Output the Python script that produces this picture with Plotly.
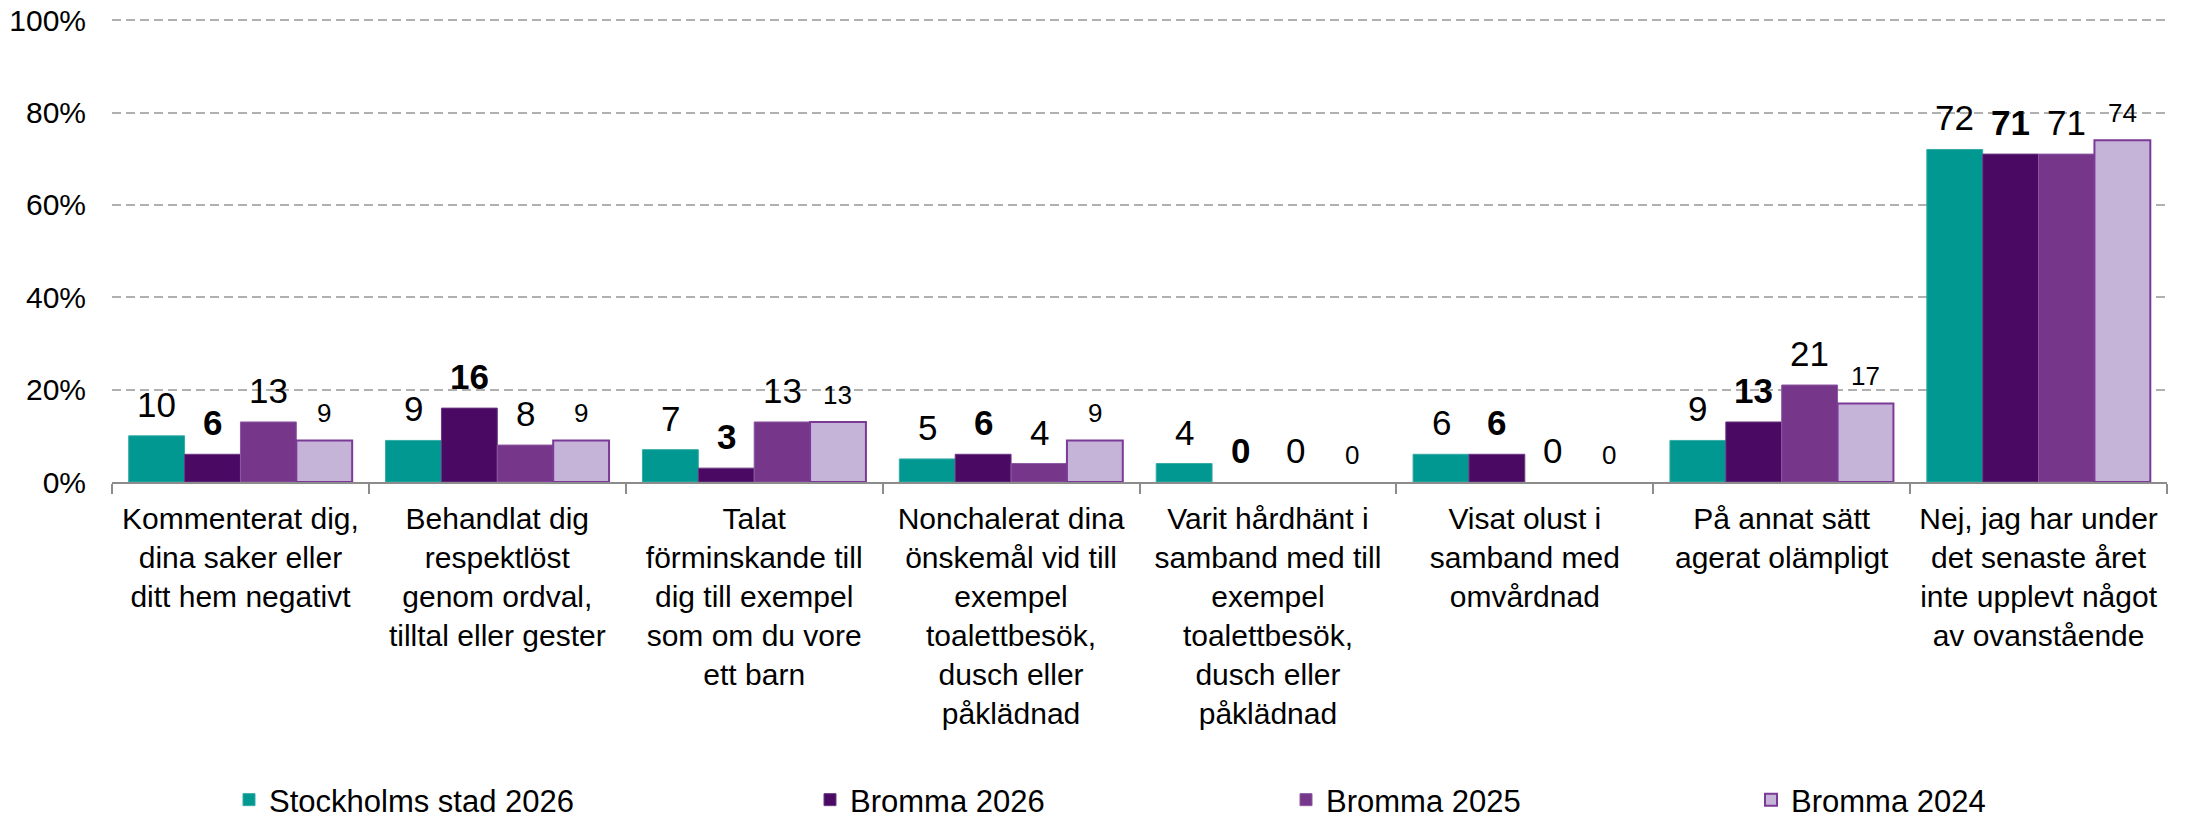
import plotly.graph_objects as go

categories = [
    "Kommenterat dig,<br>dina saker eller<br>ditt hem negativt",
    "Behandlat dig<br>respektlöst<br>genom ordval,<br>tilltal eller gester",
    "Talat<br>förminskande till<br>dig till exempel<br>som om du vore<br>ett barn",
    "Nonchalerat dina<br>önskemål vid till<br>exempel<br>toalettbesök,<br>dusch eller<br>påklädnad",
    "Varit hårdhänt i<br>samband med till<br>exempel<br>toalettbesök,<br>dusch eller<br>påklädnad",
    "Visat olust i<br>samband med<br>omvårdnad",
    "På annat sätt<br>agerat olämpligt",
    "Nej, jag har under<br>det senaste året<br>inte upplevt något<br>av ovanstående",
]

series_names = ["Stockholms stad 2026", "Bromma 2026", "Bromma 2025", "Bromma 2024"]

stockholm_2026 = [10, 9, 7, 5, 4, 6, 9, 72]
bromma_2026 = [6, 16, 3, 6, 0, 6, 13, 71]
bromma_2025 = [13, 8, 13, 4, 0, 0, 21, 71]
bromma_2024 = [9, 9, 13, 9, 0, 0, 17, 74]

series_values = [stockholm_2026, bromma_2026, bromma_2025, bromma_2024]

y_tick_values = [0, 20, 40, 60, 80, 100]
y_tick_labels = ["0%", "20%", "40%", "60%", "80%", "100%"]

fill_colors = ["#009891", "#4A0A64", "#76368A", "#C5B3D8"]
line_colors = ["#35ABA6", "#6B3A82", "#8C58A2", "#7B3A96"]
line_widths = [1, 1, 1, 2]
label_sizes = [35, 35, 35, 26]
label_bold = [False, True, False, False]

legend_ids = ["legend", "legend2", "legend3", "legend4"]
legend_left_px = [229, 810, 1286, 1751]

FONT = "Liberation Sans, Arial, sans-serif"
BARGAP = 0.13
W, H = 2191, 818

fig = go.Figure()
for j, (name, vals) in enumerate(zip(series_names, series_values)):
    fig.add_trace(go.Bar(
        x=categories, y=vals, name=name,
        marker=dict(
            color=fill_colors[j],
            line=dict(color=line_colors[j],
                      width=[line_widths[j] if v > 0 else 0 for v in vals]),
        ),
        legend=legend_ids[j],
        hoverinfo="skip",
    ))

bar_w = (1 - BARGAP) / len(series_names)
annotations = []
for j, vals in enumerate(series_values):
    for i, v in enumerate(vals):
        txt = f"<b>{v}</b>" if label_bold[j] else str(v)
        annotations.append(dict(
            x=i + (j - 1.5) * bar_w, y=v, xref="x", yref="y",
            text=txt, showarrow=False, yanchor="bottom", xanchor="center",
            yshift=10, font=dict(size=label_sizes[j], color="#000000", family=FONT),
        ))

layout_legends = {}
for j, lid in enumerate(legend_ids):
    layout_legends[lid] = dict(
        x=legend_left_px[j] / W, y=1 - 800 / H, xref="container", yref="container",
        xanchor="left", yanchor="middle",
        orientation="h", font=dict(size=31, color="#000000", family=FONT),
        bgcolor="rgba(0,0,0,0)", borderwidth=0,
    )

fig.update_layout(
    width=W, height=H,
    margin=dict(l=112, r=24, t=19, b=336, autoexpand=False),
    paper_bgcolor="white", plot_bgcolor="white",
    barmode="group", bargap=BARGAP, bargroupgap=0,
    font=dict(family=FONT, color="#000000"),
    showlegend=True,
    annotations=annotations,
    **layout_legends,
)

fig.update_xaxes(
    type="category", tickson="boundaries", ticks="outside", ticklen=10, tickwidth=2,
    tickcolor="#8C8C8C", showline=True, linecolor="#8C8C8C", linewidth=2,
    showgrid=False, ticklabelstandoff=9,
    tickfont=dict(size=30, color="#000000", family=FONT),
)

fig.update_yaxes(
    range=[0, 100.25], tickvals=y_tick_values, ticktext=y_tick_labels,
    showgrid=True, gridcolor="#B0B0B0", gridwidth=2, griddash="9px,5px",
    zeroline=False, showline=False, ticks="", ticklabelstandoff=25,
    ticklabeloverflow="allow",
    tickfont=dict(size=30, color="#000000", family=FONT),
)

fig.write_html(
    "out.html",
    config={"displayModeBar": False},
    post_script="document.body.style.margin='0';",
)
